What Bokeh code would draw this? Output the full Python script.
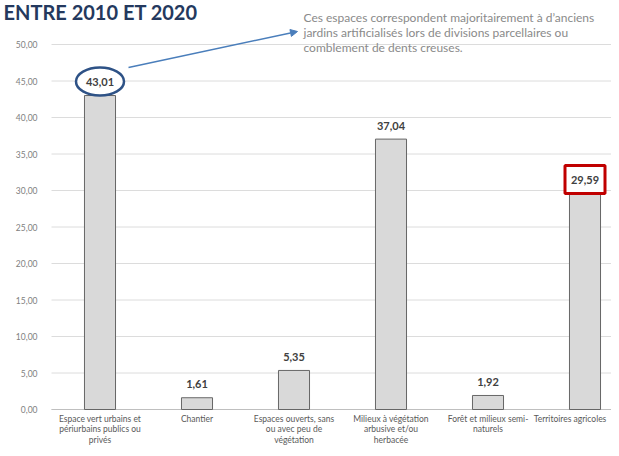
from bokeh.plotting import figure
from bokeh.models import Range1d, Arrow, NormalHead
from bokeh.core.properties import value
from bokeh.embed import file_html
from bokeh.resources import INLINE

# ---- data ----
title_text = "ENTRE 2010 ET 2020"
note_lines = [
    "Ces espaces correspondent majoritairement à d’anciens",
    "jardins artificialisés lors de divisions parcellaires ou",
    "comblement de dents creuses.",
]
categories = [
    "Espace vert urbains et\npériurbains publics ou\nprivés",
    "Chantier",
    "Espaces ouverts, sans\nou avec peu de\nvégétation",
    "Milieux à végétation\narbusive et/ou\nherbacée",
    "Forêt et milieux semi-\nnaturels",
    "Territoires agricoles",
]
values = [43.01, 1.61, 5.35, 37.04, 1.92, 29.59]
value_labels = ["43,01", "1,61", "5,35", "37,04", "1,92", "29,59"]
y_ticks = [0, 5, 10, 15, 20, 25, 30, 35, 40, 45, 50]
y_tick_labels = ["0,00", "5,00", "10,00", "15,00", "20,00", "25,00",
                 "30,00", "35,00", "40,00", "45,00", "50,00"]

# ---- layout ----
W, H = 611, 448
PX_X = 97.0      # pixels per category
X_ORIGIN = 99.5  # canvas px of first category centre
PX_Y = 7.3       # pixels per unit
Y_ORIGIN = 409   # canvas px of value 0


def X(cx):
    return (cx - X_ORIGIN) / PX_X


def Y(cy):
    return (Y_ORIGIN - cy) / PX_Y


idx = list(range(len(categories)))
FONT = value("Lato")

p = figure(width=W, height=H, output_backend="svg", toolbar_location=None,
           x_range=Range1d(X(0), X(W)), y_range=Range1d(Y(H), Y(0)),
           min_border=0, outline_line_color=None)
p.axis.visible = False
p.grid.visible = False
p.background_fill_color = "white"
p.border_fill_color = "white"

# grid lines
p.segment(x0=-0.5, x1=X(W) + 1, y0=y_ticks, y1=y_ticks,
          line_color="#dcdcdc", line_width=1)
p.segment(x0=-0.5, x1=X(W) + 1, y0=0, y1=0, line_color="#bfbfbf", line_width=1)

# bars
p.vbar(x=idx, top=values, width=0.32, bottom=0,
       fill_color="#d9d9d9", line_color="#666666", line_width=1)

# highlight shapes
p.ellipse(x=idx[0], y=values[0] + 14 / PX_Y, width=48, height=28,
          width_units="screen", height_units="screen",
          fill_color="white", line_color="#2e5286", line_width=2.5)
p.rect(x=idx[5], y=values[5] + 14 / PX_Y, width=40, height=28,
       width_units="screen", height_units="screen",
       fill_color="white", line_color="#c00000", line_width=3)

# value labels
p.text(x=idx, y=values, text=value_labels, y_offset=-13.5,
       text_align="center", text_baseline="middle",
       text_font=FONT, text_font_style="bold", text_font_size="11px",
       text_color="#404040")

# y tick labels
p.text(x=-0.5, y=y_ticks, text=y_tick_labels, x_offset=-14,
       text_align="right", text_baseline="middle",
       text_font=FONT, text_font_size="8.5px", text_color="#808080")

# category labels
p.text(x=idx, y=0, text=categories, y_offset=4,
       x_offset=[0, 0, 0, 0, 0, -15],
       text_align="center", text_baseline="top", text_line_height=1.08,
       text_font=FONT, text_font_size="8.5px", text_color="#595959")

# title
p.text(x=X(3), y=Y(11), text=[title_text], text_align="left",
       text_baseline="middle", text_font=FONT, text_font_style="bold",
       text_font_size="20px", text_color="#24395e")

# note
p.text(x=X(303), y=[Y(17), Y(32), Y(47)], text=note_lines,
       text_align="left", text_baseline="middle",
       text_font=FONT, text_font_size="12px", text_color="#8a8a8a")

# arrow
p.add_layout(Arrow(end=NormalHead(size=7, fill_color="#4a7ebb", line_color="#4a7ebb"),
                   x_start=X(128), y_start=Y(67), x_end=X(297), y_end=Y(31),
                   line_color="#4a7ebb", line_width=1.5))

open("out.html", "w").write(file_html(p, INLINE))
